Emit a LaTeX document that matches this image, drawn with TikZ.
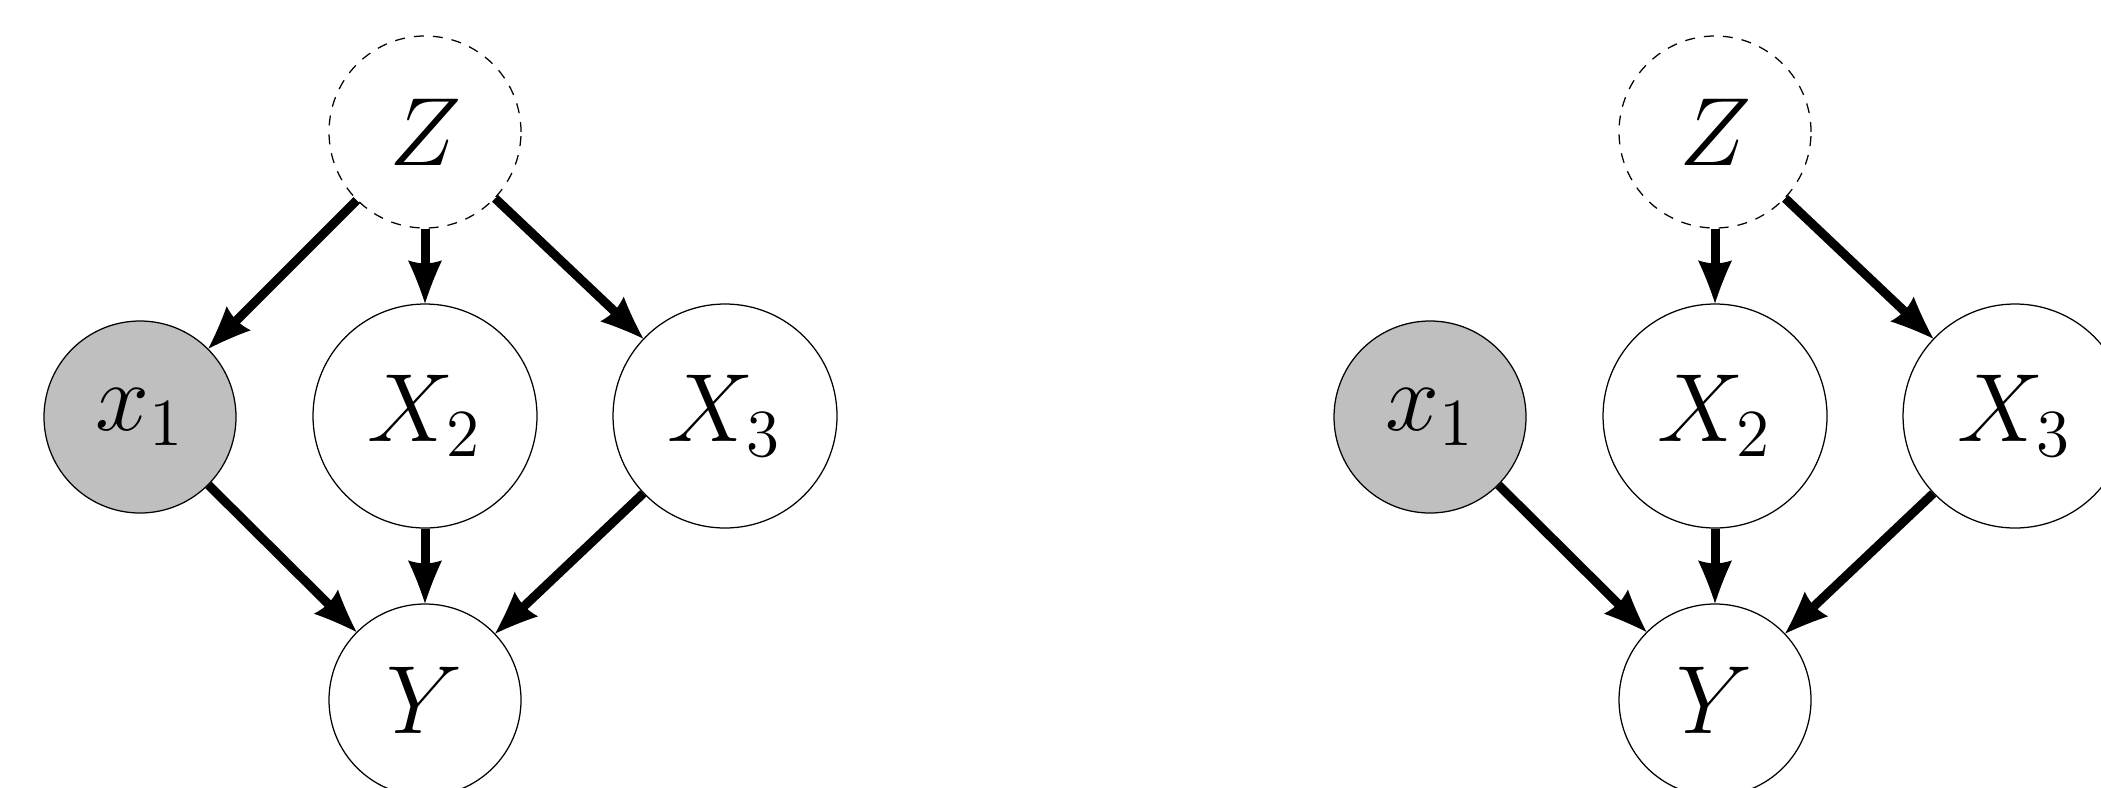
\documentclass[tikz,border=0pt]{standalone}
\usetikzlibrary{arrows.meta}
\pgfdeclarearrow{
  name = CurvedHead,
  setup code = {
    \pgfarrowssettipend{0pt}
    \pgfarrowssetlineend{-6pt}
    \pgfarrowssetbackend{-8.6pt}
    \pgfarrowssetvisualbackend{-8pt}
    \pgfarrowshullpoint{0pt}{0pt}
    \pgfarrowshullpoint{-8.6pt}{3.4pt}
    \pgfarrowshullpoint{-8.6pt}{-3.4pt}
  },
  drawing code = {
    \pgfpathmoveto{\pgfpoint{0pt}{0pt}}
    \pgfpathcurveto{\pgfpoint{-2.8pt}{0.9pt}}{\pgfpoint{-5.9pt}{2.1pt}}{\pgfpoint{-8.6pt}{3.4pt}}
    \pgfpathcurveto{\pgfpoint{-8.1pt}{1.9pt}}{\pgfpoint{-8pt}{0.8pt}}{\pgfpoint{-8pt}{0pt}}
    \pgfpathcurveto{\pgfpoint{-8pt}{-0.8pt}}{\pgfpoint{-8.1pt}{-1.9pt}}{\pgfpoint{-8.6pt}{-3.4pt}}
    \pgfpathcurveto{\pgfpoint{-5.9pt}{-2.1pt}}{\pgfpoint{-2.8pt}{-0.9pt}}{\pgfpoint{0pt}{0pt}}
    \pgfpathclose
    \pgfusepathqfill
  }
}
\newcommand\lbl[1]{\scalebox{0.935}{\huge$#1$}}
\tikzset{
  var/.style={circle,draw,line width=0.25pt,inner sep=0pt,minimum size=38.4pt},
  big/.style={var,minimum size=44.8pt},
  obs/.style={var,fill=black!25},
  latent/.style={var,dash pattern=on 2pt off 1.8pt},
  edge/.style={line width=1.8pt,-{CurvedHead}}
}
\begin{document}
\begin{tikzpicture}[x=0.2pt,y=-0.2pt]
\useasboundingbox (0,0) rectangle (2101,787);
% left diagram
\node[latent] (Za) at (425,132) {\lbl{Z}};
\node[obs] (x1a) at (140,417) {\lbl{x_1}};
\node[big] (X2a) at (425,416) {\lbl{X_2}};
\node[big] (X3a) at (725,416) {\lbl{X_3}};
\node[var] (Ya) at (425,700) {\lbl{Y}};
\draw[edge] (Za) -- (x1a);
\draw[edge] (Za) -- (X2a);
\draw[edge] (Za) -- (X3a);
\draw[edge] (x1a) -- (Ya);
\draw[edge] (X2a) -- (Ya);
\draw[edge] (X3a) -- (Ya);
% right diagram
\node[latent] (Zb) at (1715,132) {\lbl{Z}};
\node[obs] (x1b) at (1430,417) {\lbl{x_1}};
\node[big] (X2b) at (1715,416) {\lbl{X_2}};
\node[big] (X3b) at (2015,416) {\lbl{X_3}};
\node[var] (Yb) at (1715,700) {\lbl{Y}};
\draw[edge] (Zb) -- (X2b);
\draw[edge] (Zb) -- (X3b);
\draw[edge] (x1b) -- (Yb);
\draw[edge] (X2b) -- (Yb);
\draw[edge] (X3b) -- (Yb);
\end{tikzpicture}
\end{document}
